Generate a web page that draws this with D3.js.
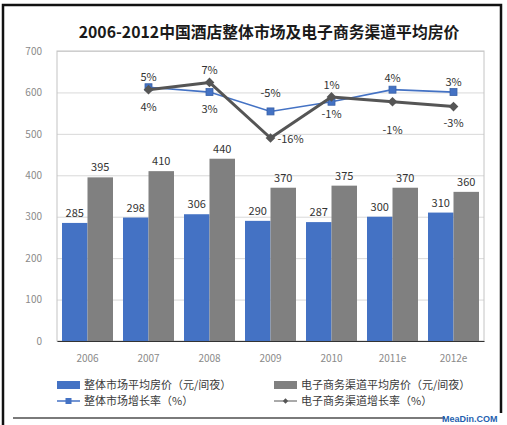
<!DOCTYPE html>
<html>
<head>
<meta charset="utf-8">
<script src="https://cdn.jsdelivr.net/npm/d3@7"></script>
<style>
  html, body { margin: 0; padding: 0; background: #fff; }
  svg { display: block; font-family: "Noto Sans CJK SC", "Noto Sans", sans-serif; }
</style>
</head>
<body>
<div id="chart"></div>
<script>
'use strict';

// data
var years = ['2006', '2007', '2008', '2009', '2010', '2011e', '2012e'];
var overallPrice = [285, 298, 306, 290, 287, 300, 310];
var onlinePrice = [395, 410, 440, 370, 375, 370, 360];
var overallGrowth = [null, 5, 3, -5, -1, 4, 3];
var onlineGrowth = [null, 4, 7, -16, 1, -1, -3];
var yTicks = [0, 100, 200, 300, 400, 500, 600, 700];

var seriesNames = [
  '整体市场平均房价（元/间夜）',
  '电子商务渠道平均房价（元/间夜）',
  '整体市场增长率（%）',
  '电子商务渠道增长率（%）'
];

// label placement for the growth lines (dx, dy from point, px)
var overallLabelOffset = [null, [0, -10], [0, 17], [0, -18], [0, 12], [0, -12], [0, -10]];
var onlineLabelOffset = [null, [0, 17], [0, -12], [20, 1], [0, -12], [0, 28], [0, 17]];

var W = 507, H = 425;
var plot = { left: 57, right: 484, top: 51, bottom: 341 };
var blue = '#4472c4', grey = '#808080', dark = '#555555';

var svg = d3.select('#chart').append('svg')
  .attr('width', W).attr('height', H)
  .attr('viewBox', [0, 0, W, H]);

svg.append('rect').attr('width', W).attr('height', H).attr('fill', '#fff');

// outer frame (left / top / right)
svg.append('path')
  .attr('d', 'M3,' + H + 'V5H501V413')
  .attr('fill', 'none').attr('stroke', '#111').attr('stroke-width', 2.5);

svg.append('text')
  .attr('x', 269).attr('y', 38)
  .attr('text-anchor', 'middle')
  .attr('font-size', 15.8).attr('font-weight', 'bold').attr('fill', '#1a1a1a')
  .text('2006-2012中国酒店整体市场及电子商务渠道平均房价');

var x0 = d3.scaleBand().domain(years).range([plot.left, plot.right])
  .paddingInner(0.164).paddingOuter(0.082);
var x1 = d3.scaleBand().domain([0, 1]).range([0, x0.bandwidth()]);
var y = d3.scaleLinear().domain([0, 700]).range([plot.bottom, plot.top]);
var y2 = d3.scaleLinear().domain([-100, 20]).range([plot.bottom, plot.top]);

// gridlines
svg.append('g')
  .attr('transform', 'translate(' + plot.left + ',0)')
  .call(d3.axisLeft(y).tickValues(yTicks).tickSize(-(plot.right - plot.left)).tickFormat(''))
  .call(function (g) {
    g.select('.domain').remove();
    g.selectAll('line').attr('stroke', '#d9d9d9');
  });

// plot frame
svg.append('rect')
  .attr('x', plot.left).attr('y', plot.top)
  .attr('width', plot.right - plot.left).attr('height', plot.bottom - plot.top)
  .attr('fill', 'none').attr('stroke', '#c4c4c4');

// y labels
svg.append('g')
  .attr('transform', 'translate(' + plot.left + ',0)')
  .call(d3.axisLeft(y).tickValues(yTicks).tickSize(0).tickPadding(15))
  .call(function (g) {
    g.select('.domain').remove();
    g.selectAll('text').attr('font-size', 10).attr('fill', '#8a8a8a')
      .attr('font-family', '"Noto Sans CJK SC", sans-serif');
  });

// bars
var barSeries = [overallPrice, onlinePrice];
var barColors = [blue, grey];
barSeries.forEach(function (vals, s) {
  var g = svg.append('g');
  g.selectAll('rect').data(vals).join('rect')
    .attr('x', function (d, i) { return x0(years[i]) + x1(s); })
    .attr('y', function (d) { return y(d); })
    .attr('width', x1.bandwidth())
    .attr('height', function (d) { return y(0) - y(d); })
    .attr('fill', barColors[s]);
  g.selectAll('text').data(vals).join('text')
    .attr('x', function (d, i) { return x0(years[i]) + x1(s) + x1.bandwidth() / 2; })
    .attr('y', function (d) { return y(d) - 6; })
    .attr('text-anchor', 'middle')
    .attr('font-size', 11).attr('fill', '#333')
    .text(function (d) { return d; });
});

// x axis
svg.append('g')
  .attr('transform', 'translate(0,' + plot.bottom + ')')
  .call(d3.axisBottom(x0).tickSize(0).tickPadding(14))
  .call(function (g) {
    g.select('.domain').attr('stroke', '#333').attr('stroke-width', 1.2);
    g.selectAll('text').attr('font-size', 10).attr('fill', '#8a8a8a')
      .attr('font-family', '"Noto Sans CJK SC", sans-serif');
  });

function cx(i) { return x0(years[i]) + x0.bandwidth() / 2; }

var line = d3.line()
  .defined(function (d) { return d != null; })
  .x(function (d, i) { return cx(i); })
  .y(function (d) { return y2(d); });

// overall growth line
svg.append('path').datum(overallGrowth)
  .attr('d', line).attr('fill', 'none')
  .attr('stroke', blue).attr('stroke-width', 1.6);
svg.append('g').selectAll('rect')
  .data(overallGrowth.map(function (d, i) { return { v: d, i: i }; }).filter(function (d) { return d.v != null; }))
  .join('rect')
  .attr('x', function (d) { return cx(d.i) - 3.5; })
  .attr('y', function (d) { return y2(d.v) - 3.5; })
  .attr('width', 7).attr('height', 7)
  .attr('fill', blue).attr('stroke', '#3a62a8').attr('stroke-width', 0.8);

// online growth line
svg.append('path').datum(onlineGrowth)
  .attr('d', line).attr('fill', 'none')
  .attr('stroke', dark).attr('stroke-width', 3).attr('stroke-linejoin', 'round');
svg.append('g').selectAll('path')
  .data(onlineGrowth.map(function (d, i) { return { v: d, i: i }; }).filter(function (d) { return d.v != null; }))
  .join('path')
  .attr('d', d3.symbol().type(d3.symbolDiamond2).size(60))
  .attr('transform', function (d) { return 'translate(' + cx(d.i) + ',' + y2(d.v) + ')'; })
  .attr('fill', dark);

// growth labels
function growthLabels(vals, offsets) {
  svg.append('g').selectAll('text')
    .data(vals.map(function (d, i) { return { v: d, i: i }; }).filter(function (d) { return d.v != null; }))
    .join('text')
    .attr('x', function (d) { return cx(d.i) + offsets[d.i][0]; })
    .attr('y', function (d) { return y2(d.v) + offsets[d.i][1]; })
    .attr('dy', '0.35em')
    .attr('text-anchor', 'middle')
    .attr('font-size', 11).attr('fill', '#333')
    .text(function (d) { return d.v + '%'; });
}
growthLabels(overallGrowth, overallLabelOffset);
growthLabels(onlineGrowth, onlineLabelOffset);

// legend
var legend = svg.append('g').attr('font-size', 11).attr('fill', '#3a3a3a');
var legendPos = [[57, 385], [274, 385], [57, 401], [274, 401]];
legendPos.forEach(function (p, k) {
  var g = legend.append('g').attr('transform', 'translate(' + p[0] + ',' + p[1] + ')');
  if (k < 2) {
    g.append('rect').attr('x', 0).attr('y', -4).attr('width', 23).attr('height', 8)
      .attr('fill', barColors[k]);
  } else if (k === 2) {
    g.append('line').attr('x1', 0).attr('x2', 23).attr('stroke', blue).attr('stroke-width', 1.5);
    g.append('rect').attr('x', 8.5).attr('y', -3).attr('width', 6).attr('height', 6).attr('fill', blue);
  } else {
    g.append('line').attr('x1', 0).attr('x2', 23).attr('stroke', dark).attr('stroke-width', 1);
    g.append('path').attr('d', d3.symbol().type(d3.symbolDiamond2).size(18))
      .attr('transform', 'translate(11.5,0)').attr('fill', dark);
  }
  g.append('text').attr('x', 27).attr('dy', '0.35em').text(seriesNames[k]);
});

// bottom rule and watermark
svg.append('line')
  .attr('x1', 13).attr('x2', 445).attr('y1', 418).attr('y2', 418)
  .attr('stroke', '#7a7a7a').attr('stroke-width', 2);
svg.append('text')
  .attr('x', 442).attr('y', 422)
  .attr('font-size', 9).attr('font-weight', 'bold').attr('fill', '#1f5fb0')
  .attr('font-family', '"Liberation Sans", sans-serif')
  .text('MeaDin.COM');
</script>
</body>
</html>
